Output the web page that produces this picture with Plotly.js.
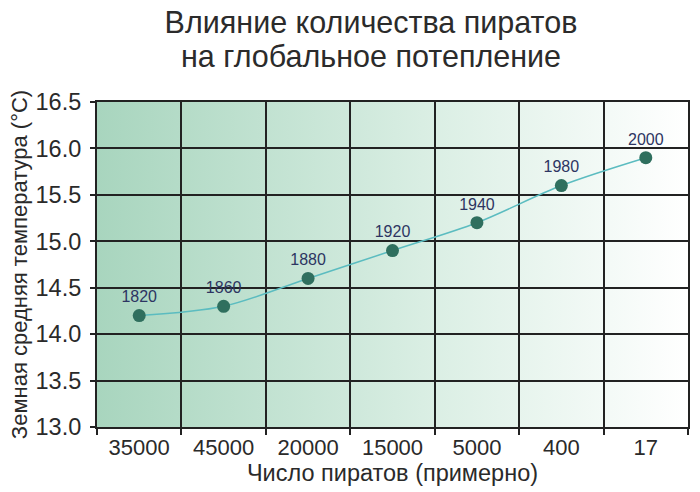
<!DOCTYPE html>
<html>
<head>
<meta charset="utf-8">
<script src="https://cdn.plot.ly/plotly-3.0.1.min.js"></script>
<style>html,body{margin:0;padding:0;background:#fff;}#chart{width:700px;height:492px;}</style>
</head>
<body>
<div id="chart"></div>
<script>
var pirates = ["35000", "45000", "20000", "15000", "5000", "400", "17"];
var years = ["1820", "1860", "1880", "1920", "1940", "1980", "2000"];
var temperature = [14.2, 14.3, 14.6, 14.9, 15.2, 15.6, 15.9];
var yTicks = [13.0, 13.5, 14.0, 14.5, 15.0, 15.5, 16.0, 16.5];
var titleLine1 = "Влияние количества пиратов";
var titleLine2 = "на глобальное потепление";

var svg = "<svg xmlns='http://www.w3.org/2000/svg' width='100' height='100' viewBox='0 0 100 100' preserveAspectRatio='none'>" +
  "<defs><linearGradient id='g' x1='0' x2='1' y1='0' y2='0'>" +
  "<stop offset='0' stop-color='#a8d5be'/><stop offset='0.55' stop-color='#d9eee3'/><stop offset='1' stop-color='#ffffff'/>" +
  "</linearGradient></defs><rect width='100' height='100' fill='url(#g)'/></svg>";
var bgSrc = "data:image/svg+xml;charset=utf-8," + encodeURIComponent(svg);

var trace = {
  x: pirates,
  y: temperature,
  text: years,
  type: "scatter",
  mode: "lines+markers+text",
  textposition: "top center",
  textfont: {family: "Liberation Sans, Arial, sans-serif", size: 16, color: "#2d3562"},
  line: {color: "#5bbcc0", width: 1.5, shape: "spline", smoothing: 0.9},
  marker: {color: "#2f6f5e", size: 13},
  cliponaxis: false,
  hoverinfo: "skip"
};

var FF = "Liberation Sans, Arial, sans-serif";
var titleFont = {family: FF, size: 30.5, color: "#2b2b2b"};

var layout = {
  width: 700,
  height: 492,
  margin: {l: 97, r: 12, t: 102, b: 65},
  paper_bgcolor: "#ffffff",
  plot_bgcolor: "rgba(0,0,0,0)",
  showlegend: false,
  font: {family: FF, color: "#2a2a2a"},
  title: {
    text: titleLine1,
    font: titleFont,
    xref: "container", x: 371 / 700, xanchor: "center",
    yref: "container", y: 1 - 22 / 492, yanchor: "middle"
  },
  annotations: [{
    text: titleLine2,
    font: titleFont,
    xref: "paper", x: (371 - 97) / 591, xanchor: "center",
    yref: "paper", y: (427 - 56) / 325, yanchor: "middle",
    showarrow: false
  }],
  xaxis: {
    type: "category",
    range: [-0.5, 6.5],
    tickson: "boundaries",
    ticks: "outside",
    ticklen: 6,
    tickwidth: 2,
    tickcolor: "#222222",
    showgrid: true,
    gridcolor: "#222222",
    gridwidth: 2,
    showline: true,
    linecolor: "#222222",
    linewidth: 2,
    mirror: true,
    tickfont: {family: FF, size: 22, color: "#2a2a2a"},
    fixedrange: true,
    title: {text: "Число пиратов (примерно)", font: {family: FF, size: 23.5, color: "#2a2a2a"}, standoff: 3}
  },
  yaxis: {
    range: [13.0, 16.5],
    tickvals: yTicks,
    tickformat: ".1f",
    ticks: "outside",
    ticklen: 5,
    tickwidth: 2,
    tickcolor: "#222222",
    showgrid: true,
    gridcolor: "#222222",
    gridwidth: 2,
    zeroline: false,
    showline: true,
    linecolor: "#222222",
    linewidth: 2,
    mirror: true,
    ticklabelstandoff: 4,
    tickfont: {family: FF, size: 23.5, color: "#2a2a2a"},
    fixedrange: true,
    title: {text: "Земная средняя температура (°C)", font: {family: FF, size: 22, color: "#2a2a2a"}, standoff: 2}
  },
  images: [{
    source: bgSrc,
    xref: "paper", yref: "paper",
    x: 0, y: 1, sizex: 1, sizey: 1,
    xanchor: "left", yanchor: "top",
    sizing: "stretch",
    layer: "below"
  }]
};

Plotly.newPlot("chart", [trace], layout, {displayModeBar: false, staticPlot: true});
</script>
</body>
</html>
